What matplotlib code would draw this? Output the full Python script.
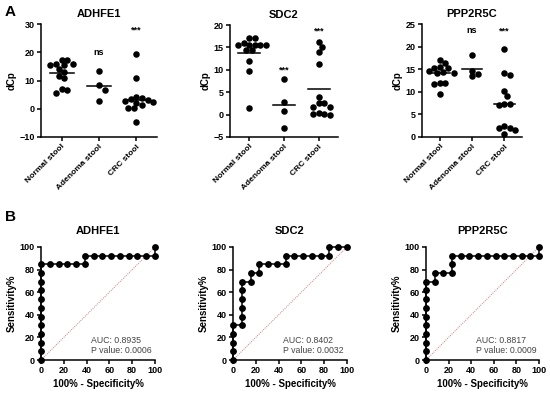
import numpy as np
import matplotlib
matplotlib.use("Agg")
import matplotlib.pyplot as plt

plt.rcParams['font.family'] = ['Liberation Sans', 'DejaVu Sans']
plt.rcParams['font.weight'] = 'bold'
plt.rcParams['axes.linewidth'] = 1.1

genes = ['ADHFE1', 'SDC2', 'PPP2R5C']
groups = ['Normal stool', 'Adenoma stool', 'CRC stool']

# dCp values
adhfe1_normal = [17.2, 17.2, 16.0, 15.8, 15.5, 15.5, 14.0, 13.0, 11.5, 11.0, 7.0, 6.5, 5.5]
adhfe1_adenoma = [13.3, 8.3, 6.8, 2.8]
adhfe1_crc = [19.3, 10.9, 4.2, 3.8, 3.5, 3.0, 2.8, 2.5, 2.0, 1.5, 0.3, 0.2, -4.7]
sdc2_normal = [17.0, 17.0, 16.0, 15.6, 15.6, 15.6, 15.6, 15.6, 14.5, 14.5, 12.0, 9.7, 1.4]
sdc2_adenoma = [7.9, 2.9, 0.9, -3.1]
sdc2_crc = [16.3, 15.2, 14.0, 11.2, 3.9, 2.6, 2.5, 1.7, 1.6, 0.3, 0.2, 0.1, 0.0]
ppp2r5c_normal = [17.0, 16.3, 15.5, 15.3, 15.2, 14.6, 14.4, 14.2, 14.2, 12.0, 11.9, 11.8, 9.6]
ppp2r5c_adenoma = [18.1, 14.6, 13.9, 13.4]
ppp2r5c_crc = [19.4, 14.1, 13.7, 10.1, 9.0, 7.3, 7.2, 7.1, 2.4, 2.1, 2.1, 1.5, 0.7]

# mean lines
adhfe1_mean = [12.5, 7.9, 3.0]
sdc2_mean = [13.7, 2.1, 5.7]
ppp2r5c_mean = [14.2, 15.1, 7.4]

# significance marks (label, height)
adhfe1_sig = [None, ('ns', 20.0), ('***', 27.8)]
sdc2_sig = [None, ('***', 10.0), ('***', 18.6)]
ppp2r5c_sig = [None, ('ns', 23.5), ('***', 23.5)]

adhfe1_ylim = (-10, 30, 10)
sdc2_ylim = (-5, 20, 5)
ppp2r5c_ylim = (0, 25, 5)

# ROC points as counts out of 13 (x: false positives, y: true positives)
n_roc = 13
adhfe1_fp = [0]*12 + [1, 2, 3, 4, 5, 5, 6, 7, 8, 9, 10, 11, 12, 13, 13]
adhfe1_tp = list(range(12)) + [11, 11, 11, 11, 11, 12, 12, 12, 12, 12, 12, 12, 12, 12, 13]
sdc2_fp = [0]*5 + [1]*6 + [2, 2, 3, 3, 4, 5, 6, 6, 7, 8, 9, 10, 11, 11, 12, 13]
sdc2_tp = [0, 1, 2, 3, 4] + [4, 5, 6, 7, 8, 9] + [9, 10, 10, 11, 11, 11, 11, 12, 12, 12, 12, 12, 12, 13, 13, 13]
ppp2r5c_fp = [0]*10 + [1, 1, 2, 3, 3, 3, 4, 5, 6, 7, 8, 9, 10, 11, 12, 13, 13]
ppp2r5c_tp = list(range(10)) + [9, 10, 10, 10, 11, 12, 12, 12, 12, 12, 12, 12, 12, 12, 12, 12, 13]

auc_vals = ['0.8935', '0.8402', '0.8817']
p_vals = ['0.0006', '0.0032', '0.0009']

W, H = 550, 395
fig = plt.figure(figsize=(W/100, H/100), dpi=100)


def rect(l, r, t, b):
    return [l/W, 1 - b/H, (r-l)/W, (b-t)/H]


def style(ax):
    for s in ['top', 'right']:
        ax.spines[s].set_visible(False)
    ax.tick_params(direction='out', length=3, width=1.1, labelsize=6.5, pad=1.5)
    for lab in ax.get_xticklabels() + ax.get_yticklabels():
        lab.set_fontweight('bold')


def swarm(ax, x0, vals, step=2.8, mind=5.4):
    # simple beeswarm in pixel space, points spread left/right of the group
    trans = ax.transData
    placed = []
    offs = np.zeros(len(vals))
    order = np.argsort(vals)[::-1]
    xp0 = trans.transform((x0, 0))[0]
    for i in order:
        yp = trans.transform((x0, vals[i]))[1]
        for k in range(40):
            cands = [0] if k == 0 else [k, -k]
            done = False
            for c in cands:
                xp = xp0 + c*step
                if all((xp-px)**2 + (yp-py)**2 >= mind**2 for px, py in placed):
                    placed.append((xp, yp))
                    offs[i] = trans.inverted().transform((xp, yp))[0] - x0
                    done = True
                    break
            if done:
                break
    return offs


top_rects = [rect(41, 157, 24, 137), rect(230, 338, 25, 137), rect(422, 522, 24, 137)]
top_data = [[adhfe1_normal, adhfe1_adenoma, adhfe1_crc],
            [sdc2_normal, sdc2_adenoma, sdc2_crc],
            [ppp2r5c_normal, ppp2r5c_adenoma, ppp2r5c_crc]]
top_means = [adhfe1_mean, sdc2_mean, ppp2r5c_mean]
top_sig = [adhfe1_sig, sdc2_sig, ppp2r5c_sig]
top_ylim = [adhfe1_ylim, sdc2_ylim, ppp2r5c_ylim]

for g in range(3):
    ax = fig.add_axes(top_rects[g])
    lo, hi, step = top_ylim[g]
    ax.set_ylim(lo, hi)
    ax.set_xlim(-0.55, 2.55)
    ax.set_yticks(np.arange(lo, hi + 0.1, step))
    ax.set_xticks(range(3))
    ax.set_xticklabels(groups, rotation=45, ha='right', rotation_mode='anchor')
    ax.set_ylabel('dCp', fontsize=7, fontweight='bold', labelpad=2)
    ax.set_title(genes[g], fontsize=8, fontweight='bold', pad=5)
    style(ax)
    ax.tick_params(axis='x', labelsize=6)
    for j in range(3):
        vals = np.array(top_data[g][j])
        offs = swarm(ax, j, vals)
        ax.scatter(j + offs, vals, s=22, color='black', zorder=3, clip_on=False, linewidths=0)
        ax.plot([j - 0.32, j + 0.32], [top_means[g][j]]*2, color='black', lw=1.1, zorder=4)
        if top_sig[g][j] is not None:
            lab, yy = top_sig[g][j]
            ax.text(j, yy, lab, ha='center', va='center', fontsize=6.5, fontweight='bold')

bot_rects = [rect(41, 155, 247, 360), rect(233, 347, 247, 360), rect(426, 539, 247, 360)]
roc_fp = [adhfe1_fp, sdc2_fp, ppp2r5c_fp]
roc_tp = [adhfe1_tp, sdc2_tp, ppp2r5c_tp]

for g in range(3):
    ax = fig.add_axes(bot_rects[g])
    fpr = np.array(roc_fp[g]) * 100.0 / n_roc
    tpr = np.array(roc_tp[g]) * 100.0 / n_roc
    ax.plot([0, 100], [0, 100], color='#c87f7f', lw=0.7, ls=(0, (1, 1.2)), zorder=2)
    ax.plot(fpr, tpr, color='black', lw=1.1, marker='o', ms=3.9, zorder=3, clip_on=False)
    ax.set_xlim(0, 100)
    ax.set_ylim(0, 100)
    ax.set_xticks(range(0, 101, 20))
    ax.set_yticks(range(0, 101, 20))
    ax.set_xlabel('100% - Specificity%', fontsize=7, fontweight='bold', labelpad=3)
    ax.set_ylabel('Sensitivity%', fontsize=7, fontweight='bold', labelpad=2)
    ax.set_title(genes[g], fontsize=8, fontweight='bold', pad=9)
    style(ax)
    ax.text(44, 17, 'AUC: ' + auc_vals[g], fontsize=6.3, fontweight='normal', color='#444444', va='center')
    ax.text(44, 8.5, 'P value: ' + p_vals[g], fontsize=6.3, fontweight='normal', color='#444444', va='center')

fig.text(5/W, 1 - 12/H, 'A', fontsize=11, fontweight='bold', va='center')
fig.text(5/W, 1 - 217/H, 'B', fontsize=11, fontweight='bold', va='center')

fig.savefig('out.png', dpi=100)
